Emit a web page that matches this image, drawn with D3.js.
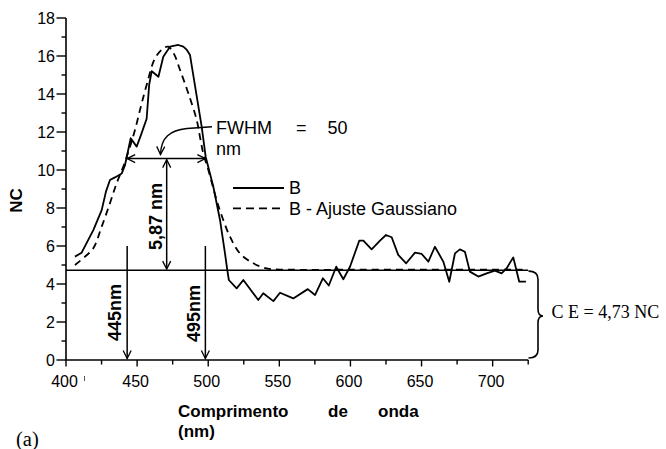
<!DOCTYPE html>
<html>
<head>
<meta charset="utf-8">
<script src="https://cdn.jsdelivr.net/npm/d3@7"></script>
<style>
  html, body { margin: 0; padding: 0; background: #fff; }
  svg { display: block; }
</style>
</head>
<body>
<svg id="chart" width="666" height="449"></svg>
<script>
// ---- Data ----
const solidWavelength = [406.3, 411, 419.2, 425.1, 428.1, 430.9, 434.4, 439.2, 441.5, 445.5, 449.7, 453, 456.7, 458.5, 460.3, 465, 468.4, 473.1, 479, 482.5, 485, 487.2, 495.4, 498.2, 503.6, 508.3, 511.8, 513.2, 514.5, 520, 524.7, 535.2, 538.7, 545.8, 550.5, 559.8, 570, 575.1, 580.6, 584.8, 590, 595, 599.7, 606.2, 609.1, 614.9, 620.8, 625, 629, 633.6, 639.2, 645.4, 650.1, 654.8, 659.4, 665.3, 669.5, 673.5, 677, 680.5, 684, 689.9, 695.8, 701.6, 706.3, 709.8, 714.5, 718.7, 723.4];
const solidNC = [5.44, 5.65, 6.84, 7.89, 8.86, 9.47, 9.61, 9.82, 10.26, 11.67, 11.23, 11.9, 12.7, 14.5, 15.2, 14.91, 15.96, 16.49, 16.58, 16.49, 16.32, 16.05, 12.28, 10.7, 9.12, 7.37, 5.61, 4.85, 4.21, 3.77, 4.21, 3.16, 3.51, 3.1, 3.54, 3.24, 3.73, 3.42, 4.3, 3.92, 4.91, 4.25, 4.91, 6.28, 6.28, 5.82, 6.28, 6.58, 6.46, 5.53, 5.09, 5.65, 5.58, 5.18, 5.96, 5.18, 4.12, 5.61, 5.82, 5.7, 4.65, 4.39, 4.56, 4.7, 4.56, 4.82, 5.4, 4.12, 4.12];

const gaussWavelength = [406.3, 413.4, 419.2, 425.1, 430.9, 435.6, 440.3, 445, 448.5, 452.5, 456.7, 462.6, 468.4, 471.9, 476, 480.2, 486, 491.9, 494.2, 496.5, 500.1, 505.9, 510.6, 515.3, 522.3, 531.7, 541.1, 548.1, 560, 600, 650, 700, 721];
const gaussNC = [5.0, 5.44, 5.88, 7.02, 8.25, 9.3, 10.18, 11.23, 12.1, 13.3, 14.47, 15.88, 16.4, 16.49, 16.1, 15.26, 14.04, 12.63, 11.75, 10.88, 10.0, 8.42, 7.37, 6.49, 5.61, 5.09, 4.82, 4.77, 4.75, 4.75, 4.75, 4.75, 4.75];

const xTicksMajor = [400, 450, 500, 550, 600, 650, 700];
const yTicksMajor = [0, 2, 4, 6, 8, 10, 12, 14, 16, 18];

const ceLevel = 4.73;          // C E baseline
const halfLevel = 10.6;        // CE + 5,87
const fwhmLeft = 443, fwhmRight = 498, fwhmMid = 470.8;

const legendLabels = ["B", "B - Ajuste Gaussiano"];

// ---- Scales ----
const svg = d3.select("#chart");
const x = d3.scaleLinear().domain([400, 725]).range([66, 528.2]);
const y = d3.scaleLinear().domain([0, 18]).range([360, 18]);

const sans = "'Liberation Sans', Arial, sans-serif";
const serif = "'Liberation Serif', 'Times New Roman', serif";

// markers
const defs = svg.append("defs");
defs.append("marker").attr("id", "arr")
  .attr("viewBox", "-10 -6 12 12").attr("refX", 0).attr("refY", 0)
  .attr("markerWidth", 12).attr("markerHeight", 12)
  .attr("markerUnits", "userSpaceOnUse")
  .attr("orient", "auto-start-reverse")
  .append("path").attr("d", "M-8,-4 L0,0 L-8,4")
  .attr("fill", "none").attr("stroke", "#000").attr("stroke-width", 1.3);

// ---- Axes ----
const xAxis = d3.axisBottom(x).tickValues(d3.range(400, 726, 25)).tickSize(0).tickFormat("");
const gx = svg.append("g").attr("transform", `translate(0,${y(0)})`).call(xAxis);
gx.select(".domain").remove();
svg.append("line").attr("x1", x(400)).attr("x2", x(725)).attr("y1", y(0)).attr("y2", y(0))
  .attr("stroke", "#000").attr("stroke-width", 1.6);
d3.range(400, 726, 25).forEach(v => {
  const major = xTicksMajor.includes(v);
  svg.append("line").attr("x1", x(v)).attr("x2", x(v)).attr("y1", y(0)).attr("y2", y(0) + (major ? 6.5 : 4.5))
    .attr("stroke", "#000").attr("stroke-width", 1.4);
});
xTicksMajor.forEach(v => {
  svg.append("text").attr("x", x(v) - 1.5).attr("y", 386.5).attr("text-anchor", "middle")
    .attr("font-family", sans).attr("font-size", 16).text(v);
});
// small stray mark after "400"
svg.append("line").attr("x1", 84.5).attr("x2", 84.5).attr("y1", 376).attr("y2", 381)
  .attr("stroke", "#555").attr("stroke-width", 1);

svg.append("line").attr("x1", x(400)).attr("x2", x(400)).attr("y1", y(0)).attr("y2", y(18))
  .attr("stroke", "#000").attr("stroke-width", 1.6);
d3.range(0, 19, 1).forEach(v => {
  const major = yTicksMajor.includes(v);
  svg.append("line").attr("x1", x(400) - (major ? 9.5 : 4.5)).attr("x2", x(400)).attr("y1", y(v)).attr("y2", y(v))
    .attr("stroke", "#000").attr("stroke-width", 1.4);
});
yTicksMajor.forEach(v => {
  svg.append("text").attr("x", 55).attr("y", y(v)).attr("dy", "0.36em").attr("text-anchor", "end")
    .attr("font-family", sans).attr("font-size", 16).text(v);
});

// axis titles
svg.append("text").attr("transform", "translate(22,200.5) rotate(-90)").attr("text-anchor", "middle")
  .attr("font-family", sans).attr("font-size", 17).attr("font-weight", "bold").text("NC");
const xt = svg.append("g").attr("font-family", sans).attr("font-size", 17).attr("font-weight", "bold");
xt.append("text").attr("x", 178).attr("y", 416.5).text("Comprimento");
xt.append("text").attr("x", 328).attr("y", 416.5).text("de");
xt.append("text").attr("x", 378).attr("y", 416.5).text("onda");
xt.append("text").attr("x", 178).attr("y", 436.5).text("(nm)");

svg.append("text").attr("x", 16).attr("y", 445.5).attr("font-family", serif).attr("font-size", 20.5).text("(a)");

// ---- CE baseline ----
svg.append("line").attr("x1", x(400)).attr("x2", x(725)).attr("y1", y(ceLevel)).attr("y2", y(ceLevel))
  .attr("stroke", "#000").attr("stroke-width", 1.5);

// ---- Series ----
const solidData = solidWavelength.map((w, i) => [w, solidNC[i]]);
const gaussData = gaussWavelength.map((w, i) => [w, gaussNC[i]]);
svg.append("path").datum(gaussData)
  .attr("d", d3.line().x(d => x(d[0])).y(d => y(d[1])).curve(d3.curveCatmullRom))
  .attr("fill", "none").attr("stroke", "#000").attr("stroke-width", 1.8).attr("stroke-dasharray", "7,5");
svg.append("path").datum(solidData)
  .attr("d", d3.line().x(d => x(d[0])).y(d => y(d[1])))
  .attr("fill", "none").attr("stroke", "#000").attr("stroke-width", 1.8).attr("stroke-linejoin", "round");

// ---- Annotations ----
// FWHM horizontal double arrow
svg.append("line").attr("x1", x(fwhmLeft)).attr("x2", x(fwhmRight)).attr("y1", y(halfLevel)).attr("y2", y(halfLevel))
  .attr("stroke", "#000").attr("stroke-width", 1.5)
  .attr("marker-start", "url(#arr)").attr("marker-end", "url(#arr)");
// 5,87 vertical double arrow
svg.append("line").attr("x1", x(fwhmMid)).attr("x2", x(fwhmMid)).attr("y1", y(halfLevel) + 1).attr("y2", y(ceLevel) - 1)
  .attr("stroke", "#000").attr("stroke-width", 1.5)
  .attr("marker-start", "url(#arr)").attr("marker-end", "url(#arr)");
// vertical arrows at 445 and 495
[fwhmLeft, fwhmRight].forEach(w => {
  svg.append("line").attr("x1", x(w)).attr("x2", x(w)).attr("y1", 246).attr("y2", y(0) - 1.5)
    .attr("stroke", "#000").attr("stroke-width", 1.5).attr("marker-end", "url(#arr)");
});
// curved arrow from FWHM text
svg.append("path")
  .attr("d", "M212,126.7 L187,128.6 C170,130.5 161,137 160.5,154.5")
  .attr("fill", "none").attr("stroke", "#000").attr("stroke-width", 1.5).attr("marker-end", "url(#arr)");

const bold = svg.append("g").attr("font-family", sans).attr("font-size", 18).attr("font-weight", "bold").attr("text-anchor", "middle");
bold.append("text").attr("transform", "translate(120.5,312.5) rotate(-90)").text("445nm");
bold.append("text").attr("transform", "translate(200,313.5) rotate(-90)").text("495nm");
bold.append("text").attr("transform", "translate(161.5,216.5) rotate(-90)").text("5,87 nm");

const ann = svg.append("g").attr("font-family", sans).attr("font-size", 18);
ann.append("text").attr("x", 216).attr("y", 133.5).text("FWHM");
ann.append("text").attr("x", 296).attr("y", 133.5).text("=");
ann.append("text").attr("x", 327.5).attr("y", 133.5).text("50");
ann.append("text").attr("x", 216).attr("y", 155).text("nm");

// legend
svg.append("line").attr("x1", 233).attr("x2", 284).attr("y1", 188).attr("y2", 188)
  .attr("stroke", "#000").attr("stroke-width", 1.8);
svg.append("line").attr("x1", 233).attr("x2", 284).attr("y1", 208.3).attr("y2", 208.3)
  .attr("stroke", "#000").attr("stroke-width", 1.8).attr("stroke-dasharray", "8,5");
ann.append("text").attr("x", 289).attr("y", 194).text(legendLabels[0]);
ann.append("text").attr("x", 289).attr("y", 215).text(legendLabels[1]);

// brace and CE label
const bt = y(ceLevel) + 1, bb = y(0) - 2, bm = (bt + bb) / 2 + 1.5;
svg.append("path")
  .attr("d", `M528.5,${bt} Q538,${bt} 538,${bt + 8} L538,${bm - 7} Q538,${bm} 543,${bm} Q538,${bm} 538,${bm + 7} L538,${bb - 8} Q538,${bb} 528.5,${bb}`)
  .attr("fill", "none").attr("stroke", "#000").attr("stroke-width", 1.6);
svg.append("text").attr("x", 551.5).attr("y", 317.5).attr("font-family", serif).attr("font-size", 18)
  .text("C E = 4,73 NC");
</script>
</body>
</html>
